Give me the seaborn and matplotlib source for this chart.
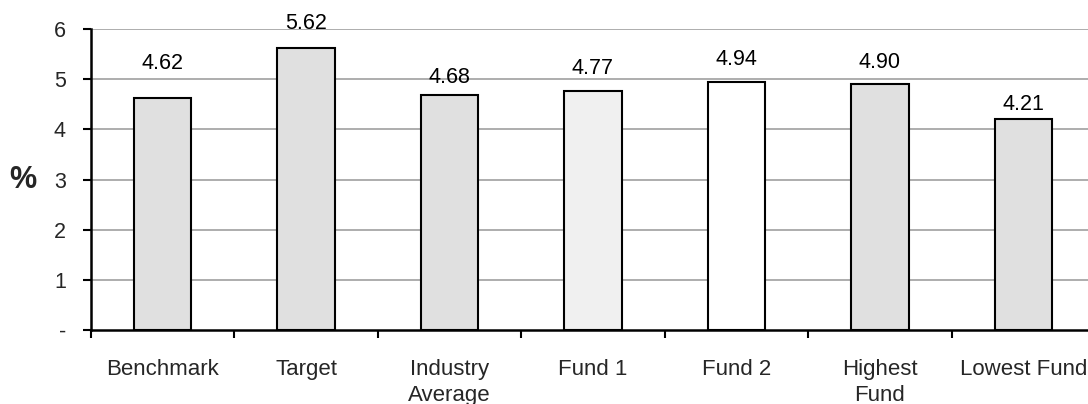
import matplotlib
matplotlib.use("Agg")
import matplotlib.pyplot as plt
import seaborn as sns
import pandas as pd
import numpy as np

categories = ["Benchmark", "Target", "Industry\nAverage", "Fund 1", "Fund 2", "Highest\nFund", "Lowest Fund"]
values = [4.62, 5.62, 4.68, 4.77, 4.94, 4.90, 4.21]
value_labels = ["4.62", "5.62", "4.68", "4.77", "4.94", "4.90", "4.21"]
y_ticks = [0, 1, 2, 3, 4, 5, 6]
y_tick_labels = ["-", "1", "2", "3", "4", "5", "6"]

# styling (not data)
bar_colors = ["#e0e0e0", "#e0e0e0", "#e0e0e0", "#f0f0f0", "#ffffff", "#e0e0e0", "#e0e0e0"]
label_offsets_px = [35, 25, 18, 22, 23, 22, 14]

sns.set_theme(style="white")
plt.rcParams['font.family'] = ['Liberation Sans', 'DejaVu Sans']

fig = plt.figure(figsize=(10.88, 4.04), dpi=100)
ax = fig.add_axes([91/1088, 74/404, 1004/1088, 301/404])

df = pd.DataFrame({"cat": categories, "val": values})
sns.barplot(data=df, x="cat", y="val", hue="cat", palette=bar_colors, legend=False,
            width=0.4, edgecolor="black", linewidth=1.5, ax=ax, zorder=3)

ax.set_ylim(0, 6)
ax.set_xlim(-0.5, len(categories) - 0.5)
ax.set_yticks(y_ticks)
ax.set_yticklabels(y_tick_labels, fontsize=15.5)
for yv in y_ticks[1:]:
    ax.axhline(yv, color="#a0a0a0", linewidth=1.2, zorder=1)

ax.set_xticks(range(len(categories)))
ax.set_xticklabels(categories, fontsize=16, linespacing=1.3)
ax.set_xticks(np.arange(-0.5, len(categories), 1.0), minor=True)
ax.tick_params(axis="x", which="major", length=0, pad=21)
ax.tick_params(axis="x", which="minor", length=6, width=1.5, color="black", direction="out", bottom=True)
ax.tick_params(axis="y", which="major", length=6, width=1.5, color="black", direction="out", left=True, pad=12)

for s in ["top", "right"]:
    ax.spines[s].set_visible(False)
for s in ["left", "bottom"]:
    ax.spines[s].set_visible(True)
    ax.spines[s].set_color("black")
    ax.spines[s].set_linewidth(1.8)

ax.set_xlabel("")
ax.set_ylabel("")
fig.text(23/1088, 1 - 180/404, "%", fontsize=22, fontweight="bold", ha="center", va="center")

for i, (v, lab) in enumerate(zip(values, value_labels)):
    ax.annotate(lab, (i, v), xytext=(0, label_offsets_px[i] * 0.72), textcoords="offset points",
                ha="center", va="center", fontsize=15.5, color="black")

fig.savefig("out.png", dpi=100)
